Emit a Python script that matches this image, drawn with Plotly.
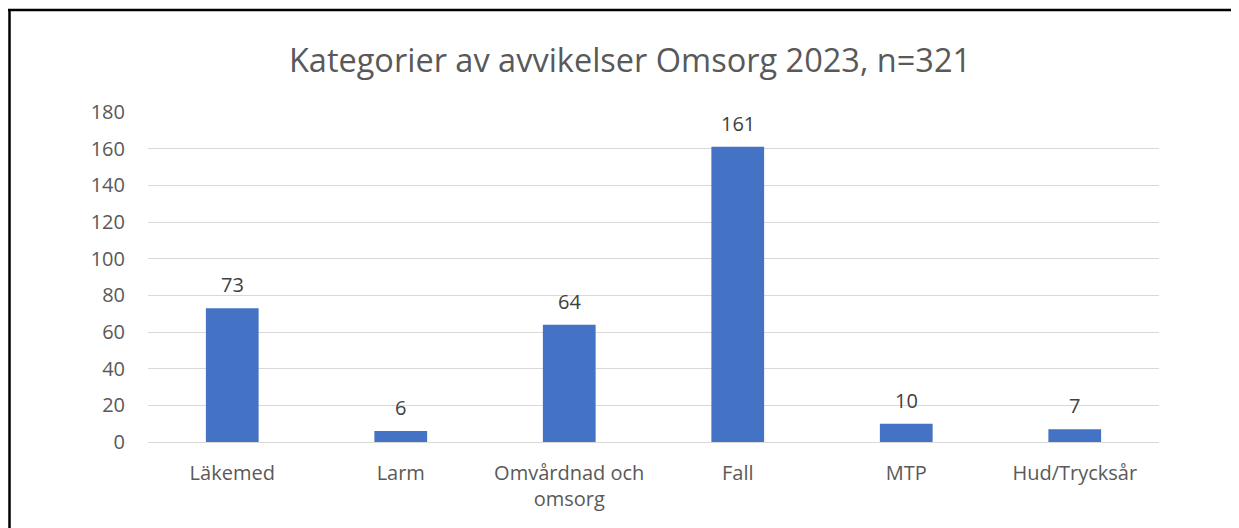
import plotly.graph_objects as go

categories = ["Läkemed", "Larm", "Omvårdnad och<br>omsorg", "Fall", "MTP", "Hud/Trycksår"]
values = [73, 6, 64, 161, 10, 7]
y_ticks = [0, 20, 40, 60, 80, 100, 120, 140, 160, 180]
title_text = "Kategorier av avvikelser Omsorg 2023, n=321"

# page body has an 8px margin, so figure coordinates = page coordinates - 8
OFF = 8
W, H = 1239 - OFF, 528 - OFF
L, R, T, B = 148 - OFF, 1159 - OFF, 112 - OFF, 442 - OFF
pw, ph = R - L, B - T


def px(x):
    return (x - OFF - L) / pw


def py(y):
    return (B - (y - OFF)) / ph


FONT = "Open Sans"
fig = go.Figure()
fig.add_trace(go.Bar(
    x=categories, y=values,
    marker=dict(color="#4472C4", line=dict(width=0)),
    hoverinfo="skip",
))

for c, v in zip(categories, values):
    fig.add_annotation(x=c, y=v, text=str(v), showarrow=False,
                       xref="x", yref="y", yanchor="bottom", yshift=8,
                       font=dict(family=FONT, size=20, color="#404040"))

shapes = [
    dict(type="line", xref="paper", yref="paper", x0=px(8), x1=px(1250), y0=py(10), y1=py(10),
         line=dict(color="black", width=2.5)),
    dict(type="line", xref="paper", yref="paper", x0=px(9.5), x1=px(9.5), y0=py(9), y1=py(560),
         line=dict(color="black", width=2.5)),
]

fig.update_layout(
    width=W, height=H,
    margin=dict(l=L, r=W - R, t=T, b=H - B, pad=0),
    paper_bgcolor="white", plot_bgcolor="white",
    bargap=0.687,
    showlegend=False,
    shapes=shapes,
    title=dict(text=title_text, x=(630 - OFF) / W, xref="container", xanchor="center",
               y=1 - (61 - OFF) / H, yref="container", yanchor="middle",
               font=dict(family=FONT, size=32.5, color="#595959")),
    font=dict(family=FONT, size=20, color="#595959"),
)
fig.update_yaxes(range=[0, 180], tickvals=y_ticks, showgrid=True,
                 gridcolor="#D9D9D9", gridwidth=1.3, zeroline=True,
                 zerolinecolor="#D9D9D9", zerolinewidth=1.3, showline=False,
                 ticks="", ticklabelstandoff=22,
                 tickfont=dict(family=FONT, size=20, color="#595959"))
fig.update_xaxes(showgrid=False, showline=False, ticks="", ticklabelstandoff=17,
                 tickfont=dict(family=FONT, size=20, color="#595959"))

fig.write_html("out.html")
